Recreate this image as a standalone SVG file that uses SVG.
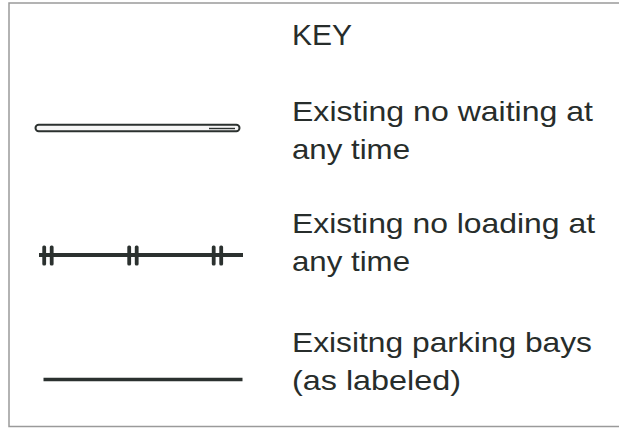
<svg xmlns="http://www.w3.org/2000/svg" width="619" height="430" viewBox="0 0 619 430">
  <style>
    .t { font-family: "Liberation Sans", Arial, sans-serif; font-size: 28.5px; fill: #272d2b; }
    .key { font-family: "Liberation Sans", Arial, sans-serif; font-size: 30px; fill: #272d2b; }
    .ink { stroke: #2b312f; fill: none; }
    .tick { fill: #2b312f; }
  </style>
  <rect width="619" height="430" fill="#ffffff"/>
  <path d="M619,3 H9 V426.5 H619" fill="none" stroke="#9a9a9a" stroke-width="1.5"/>

  <g id="title">
    <text class="key" x="292" y="45">KEY</text>
  </g>

  <g id="connectors">
    <rect class="ink" x="35.5" y="124.8" width="204" height="6.4" rx="3.2" stroke-width="2" style="fill:#f6f6f6"/>
    <line class="ink" x1="209" y1="128.5" x2="235" y2="128.5" stroke-width="1.4"/>

    <line class="ink" x1="39" y1="255" x2="243" y2="255" stroke-width="4"/>
    <rect class="tick" x="42.3" y="245.5" width="3.8" height="20" rx="1.6"/>
    <rect class="tick" x="49.8" y="245.5" width="3.8" height="20" rx="1.6"/>
    <rect class="tick" x="127.3" y="245.5" width="3.8" height="20" rx="1.6"/>
    <rect class="tick" x="134.8" y="245.5" width="3.8" height="20" rx="1.6"/>
    <rect class="tick" x="211.8" y="245.5" width="3.8" height="20" rx="1.6"/>
    <rect class="tick" x="219.3" y="245.5" width="3.8" height="20" rx="1.6"/>

    <line class="ink" x1="43.5" y1="379.5" x2="242.5" y2="379.5" stroke-width="3.6"/>
  </g>

  <g id="no-waiting">
    <text class="t" x="292" y="121" textLength="301" lengthAdjust="spacingAndGlyphs">Existing no waiting at</text>
    <text class="t" x="292" y="159" textLength="118" lengthAdjust="spacingAndGlyphs">any time</text>
  </g>

  <g id="no-loading">
    <text class="t" x="292" y="233" textLength="303" lengthAdjust="spacingAndGlyphs">Existing no loading at</text>
    <text class="t" x="292" y="271" textLength="118" lengthAdjust="spacingAndGlyphs">any time</text>
  </g>

  <g id="parking-bays">
    <text class="t" x="292" y="352" textLength="300" lengthAdjust="spacingAndGlyphs">Exisitng parking bays</text>
    <text class="t" x="292" y="390" textLength="169" lengthAdjust="spacingAndGlyphs">(as labeled)</text>
  </g>
</svg>
